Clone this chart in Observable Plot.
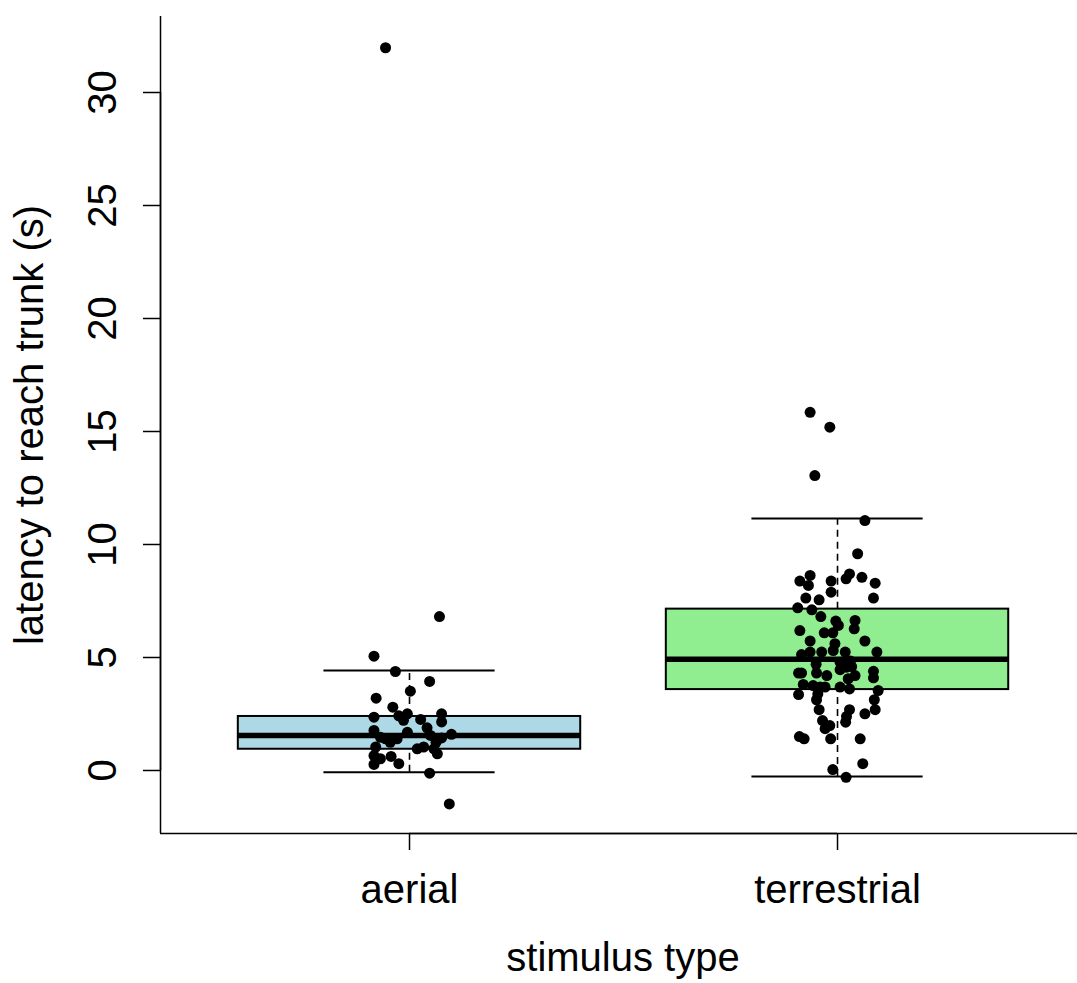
<!DOCTYPE html>
<html>
<head>
<meta charset="utf-8">
<script src="https://cdn.jsdelivr.net/npm/d3@7"></script>
<script src="https://cdn.jsdelivr.net/npm/@observablehq/plot@0.6"></script>
<style>
  html, body { margin: 0; padding: 0; background: #ffffff; }
  #chart svg { display: block; }
</style>
</head>
<body>
<div id="chart"></div>
<script>
// ---- data ----
const groups = ["aerial", "terrestrial"];
const boxColors = ["#ADD8E6", "#90EE90"];
const q1 = [0.94, 3.58];
const medians = [1.55, 4.92];
const q3 = [2.39, 7.14];
const whiskerLow = [-0.08, -0.27];
const whiskerHigh = [4.42, 11.15];
const yTicks = [0, 5, 10, 15, 20, 25, 30];

// jittered observations: horizontal jitter offset and latency value
const aerialJitter = [-0.056, 0.070, -0.083, -0.033, 0.047, 0.002, -0.078, -0.039, -0.083, -0.025,
  -0.005, -0.014, 0.026, 0.075, 0.075, -0.083, 0.041, -0.005, 0.098, 0.075,
  0.049, -0.068, -0.056, -0.029, -0.079, 0.018, 0.033, 0.057, 0.065, -0.083,
  -0.068, -0.043, -0.083, -0.025, 0.047, 0.093, -0.045, 0.062];
const aerialLatency = [31.98, 6.81, 5.06, 4.38, 3.94, 3.51, 3.20, 2.80, 2.36, 2.42,
  2.51, 2.22, 2.26, 2.51, 2.15, 1.77, 1.89, 1.69, 1.60, 1.44,
  1.55, 1.47, 1.40, 1.40, 1.04, 0.96, 1.04, 0.96, 0.74, 0.66,
  0.52, 0.62, 0.27, 0.30, -0.12, -1.48, 1.25, 1.25];

const terrestrialJitter = [-0.064, -0.018, -0.053, 0.064, 0.047, -0.088, -0.068, -0.064, -0.015, 0.020,
  0.028, 0.057, 0.088, -0.015, -0.074, -0.043, 0.084, -0.093, -0.060, -0.039,
  -0.004, 0.002, 0.041, 0.039, -0.088, -0.031, -0.011, -0.064, 0.064, -0.006,
  -0.010, -0.084, -0.064, -0.037, 0.018, 0.092, -0.091, -0.084, -0.049, -0.025,
  0.006, 0.006, 0.021, 0.033, 0.041, 0.025, 0.084, 0.084, -0.080, -0.057,
  -0.041, -0.029, 0.006, 0.028, 0.095, -0.091, -0.046, -0.049, 0.086, -0.043,
  0.028, 0.021, 0.019, 0.088, 0.064, -0.035, -0.018, -0.029, -0.089, -0.078,
  -0.016, 0.053, -0.011, 0.059, 0.020, -0.050, 0.030];
const terrestrialLatency = [15.85, 15.19, 13.05, 11.06, 9.59, 8.38, 8.19, 8.63, 8.38, 8.48,
  8.70, 8.55, 8.29, 7.89, 7.63, 7.55, 7.63, 7.20, 7.11, 6.81,
  6.61, 6.42, 6.64, 6.27, 6.19, 6.09, 6.09, 5.73, 5.73, 5.61,
  5.31, 5.13, 5.24, 5.24, 5.24, 5.24, 4.31, 4.31, 4.31, 4.20,
  4.79, 4.46, 4.57, 4.60, 4.20, 4.06, 4.39, 4.10, 3.81, 3.76,
  3.69, 3.69, 3.69, 3.61, 3.54, 3.36, 3.39, 3.13, 3.13, 2.69,
  2.69, 2.39, 2.14, 2.69, 2.51, 2.21, 1.99, 1.85, 1.50, 1.40,
  1.40, 1.40, 0.04, 0.30, -0.30, 4.70, 4.85];

const xLabel = "stimulus type";
const yLabel = "latency to reach trunk (s)";

// ---- tables built from the arrays ----
const boxes = groups.map((g, i) => ({
  group: g, pos: i + 1, q1: q1[i], median: medians[i], q3: q3[i],
  lo: whiskerLow[i], hi: whiskerHigh[i]
}));
const points = [
  ...aerialLatency.map((v, i) => ({group: "aerial", x: 1 + aerialJitter[i], y: v})),
  ...terrestrialLatency.map((v, i) => ({group: "terrestrial", x: 2 + terrestrialJitter[i], y: v}))
];

const xDomain = [0.4182, 2.5607];
const yDomain = [-2.788, 33.363];
const font = "'Liberation Sans', Arial, Helvetica, sans-serif";
const fs = 40;
const halfBox = 0.4, halfCap = 0.2;

const chart = Plot.plot({
  width: 1077,
  height: 983,
  marginLeft: 160,
  marginRight: 0,
  marginTop: 16,
  marginBottom: 150,
  style: {fontFamily: font, background: "#ffffff"},
  x: {domain: xDomain},
  y: {domain: yDomain},
  color: {domain: groups, range: boxColors},
  marks: [
    // whiskers (dashed)
    Plot.ruleX(boxes, {x: "pos", y1: "q3", y2: "hi", stroke: "black", strokeWidth: 1.6, strokeDasharray: "7,5"}),
    Plot.ruleX(boxes, {x: "pos", y1: "lo", y2: "q1", stroke: "black", strokeWidth: 1.6, strokeDasharray: "7,5"}),
    // whisker caps
    Plot.ruleY(boxes, {y: "hi", x1: d => d.pos - halfCap, x2: d => d.pos + halfCap, stroke: "black", strokeWidth: 2}),
    Plot.ruleY(boxes, {y: "lo", x1: d => d.pos - halfCap, x2: d => d.pos + halfCap, stroke: "black", strokeWidth: 2}),
    // boxes
    Plot.rect(boxes, {x1: d => d.pos - halfBox, x2: d => d.pos + halfBox, y1: "q1", y2: "q3", fill: "group", stroke: "black", strokeWidth: 2}),
    // medians
    Plot.ruleY(boxes, {y: "median", x1: d => d.pos - halfBox, x2: d => d.pos + halfBox, stroke: "black", strokeWidth: 5.5}),
    // jittered points
    Plot.dot(points, {x: "x", y: "y", r: 5.5, fill: "black", stroke: "none"}),
    // frame (left + bottom)
    Plot.ruleX([xDomain[0]], {stroke: "black", strokeWidth: 1.5}),
    Plot.ruleY([yDomain[0]], {stroke: "black", strokeWidth: 1.5}),
    // axis lines (first to last tick)
    Plot.ruleX([xDomain[0]], {y1: yTicks[0], y2: yTicks[yTicks.length - 1], stroke: "black", strokeWidth: 1.5}),
    Plot.ruleY([yDomain[0]], {x1: 1, x2: groups.length, stroke: "black", strokeWidth: 1.5}),
    // axes
    Plot.axisY({ticks: yTicks, tickSize: 17, tickPadding: 28, tickRotate: -90, fontSize: fs, label: null, strokeWidth: 1.5}),
    Plot.axisX({ticks: groups.map((g, i) => i + 1), tickFormat: d => groups[d - 1], tickSize: 17, tickPadding: 24, fontSize: fs, label: null, strokeWidth: 1.5}),
    // axis titles
    Plot.text([yLabel], {frameAnchor: "left", rotate: -90, dx: -118, lineAnchor: "bottom", textAnchor: "middle", fontSize: fs}),
    Plot.text([xLabel], {frameAnchor: "bottom", dx: 4, dy: 137, lineAnchor: "bottom", textAnchor: "middle", fontSize: fs})
  ]
});
document.getElementById("chart").appendChild(chart);
</script>
</body>
</html>
